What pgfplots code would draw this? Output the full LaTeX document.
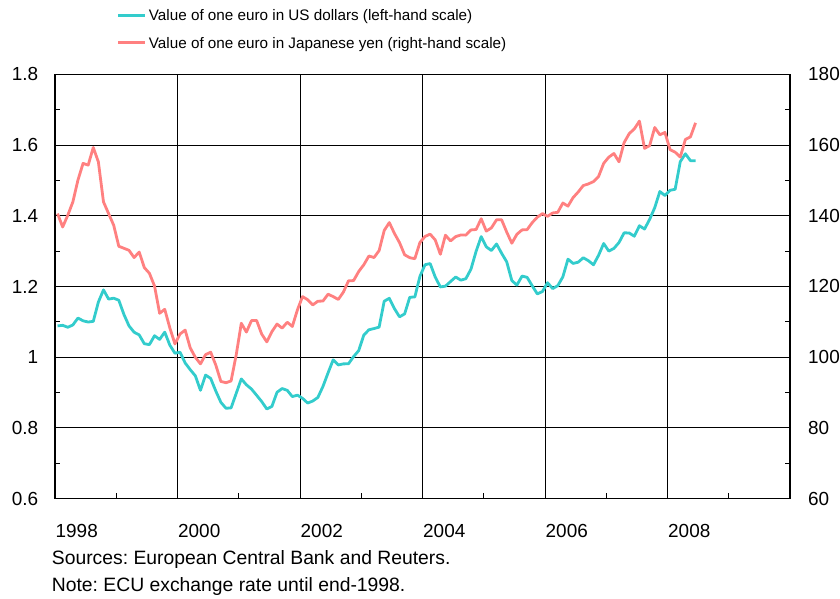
\documentclass[border=0pt]{standalone}
\usepackage{pgfplots}
\pgfplotsset{compat=1.18}
\usepackage{pgfplotstable}
\usepackage{fontspec}
\setmainfont{Liberation Sans}
\frenchspacing

\definecolor{usd}{RGB}{51,204,204}
\definecolor{jpy}{RGB}{255,128,128}

% monthly averages; before 1999 the ECU
\pgfplotstableread{
yr mo usd jpy
1998 1 1.0882 140.6
1998 2 1.0899 136.8
1998 3 1.0844 140.1
1998 4 1.0909 143.9
1998 5 1.1105 150.1
1998 6 1.1027 154.8
1998 7 1.0992 154.3
1998 8 1.1011 159.3
1998 9 1.1558 155.2
1998 10 1.1901 143.9
1998 11 1.1641 140.6
1998 12 1.1666 137.3
1999 1 1.1608 131.35
1999 2 1.1208 130.78
1999 3 1.0883 130.20
1999 4 1.0704 128.16
1999 5 1.0628 129.71
1999 6 1.0378 125.32
1999 7 1.0353 123.71
1999 8 1.0604 120.10
1999 9 1.0501 112.39
1999 10 1.0706 113.52
1999 11 1.0338 108.25
1999 12 1.0110 103.72
2000 1 1.0137 106.53
2000 2 0.9834 107.64
2000 3 0.9643 102.59
2000 4 0.9470 99.92
2000 5 0.9060 98.09
2000 6 0.9492 100.70
2000 7 0.9397 101.39
2000 8 0.9041 97.76
2000 9 0.8721 93.11
2000 10 0.8552 92.75
2000 11 0.8564 93.26
2000 12 0.8973 100.61
2001 1 0.9383 109.57
2001 2 0.9217 107.08
2001 3 0.9095 110.33
2001 4 0.8920 110.36
2001 5 0.8742 106.50
2001 6 0.8532 104.30
2001 7 0.8607 107.21
2001 8 0.9005 109.34
2001 9 0.9111 108.20
2001 10 0.9059 109.86
2001 11 0.8883 108.68
2001 12 0.8924 113.38
2002 1 0.8833 117.12
2002 2 0.8700 116.23
2002 3 0.8758 114.75
2002 4 0.8858 115.81
2002 5 0.9170 115.86
2002 6 0.9554 117.80
2002 7 0.9922 117.11
2002 8 0.9778 116.31
2002 9 0.9808 118.38
2002 10 0.9811 121.57
2002 11 1.0014 121.65
2002 12 1.0183 124.20
2003 1 1.0622 126.12
2003 2 1.0773 128.60
2003 3 1.0807 128.16
2003 4 1.0848 130.12
2003 5 1.1582 135.83
2003 6 1.1663 138.05
2003 7 1.1372 134.99
2003 8 1.1139 132.38
2003 9 1.1222 128.94
2003 10 1.1692 128.12
2003 11 1.1702 127.84
2003 12 1.2286 132.43
2004 1 1.2613 134.13
2004 2 1.2646 134.78
2004 3 1.2262 133.13
2004 4 1.1985 129.08
2004 5 1.2007 134.48
2004 6 1.2138 132.86
2004 7 1.2266 134.08
2004 8 1.2176 134.54
2004 9 1.2218 134.51
2004 10 1.2490 135.97
2004 11 1.2991 136.09
2004 12 1.3408 139.14
2005 1 1.3119 135.63
2005 2 1.3014 136.55
2005 3 1.3201 138.83
2005 4 1.2938 138.84
2005 5 1.2694 135.37
2005 6 1.2165 132.22
2005 7 1.2037 134.75
2005 8 1.2292 135.98
2005 9 1.2256 136.06
2005 10 1.2015 138.05
2005 11 1.1786 139.59
2005 12 1.1856 140.58
2006 1 1.2103 139.82
2006 2 1.1938 140.77
2006 3 1.2020 140.96
2006 4 1.2271 143.59
2006 5 1.2770 142.70
2006 6 1.2650 145.11
2006 7 1.2684 146.70
2006 8 1.2811 148.53
2006 9 1.2727 148.99
2006 10 1.2611 149.65
2006 11 1.2881 151.11
2006 12 1.3213 154.82
2007 1 1.2999 156.56
2007 2 1.3074 157.60
2007 3 1.3242 155.24
2007 4 1.3516 160.68
2007 5 1.3511 163.22
2007 6 1.3419 164.55
2007 7 1.3716 166.76
2007 8 1.3622 159.05
2007 9 1.3896 159.82
2007 10 1.4227 164.95
2007 11 1.4684 162.89
2007 12 1.4570 163.55
2008 1 1.4718 158.68
2008 2 1.4748 157.97
2008 3 1.5527 156.59
2008 4 1.5751 161.56
2008 5 1.5557 162.31
2008 6 1.5553 166.26
}\eurodata

\pgfplotsset{
  eurobase/.style={
    scale only axis, width=735bp, height=424.2bp,
    at={(0,0)}, anchor=south west,
    xmin=1998, xmax=2010,
    tick align=inside,
    major tick length=5bp, minor tick length=5bp,
    tick style={black, line width=0.9bp},
    axis line style={black, line width=1.2bp},
    ticklabel style={font=\fontsize{19}{22}\selectfont, inner sep=0pt},
    /pgf/number format/assume math mode=true,
  },
}

\begin{document}
\begin{tikzpicture}
\begin{axis}[eurobase,
  ymin=0.6, ymax=1.8,
  ytick={0.6,0.8,1,1.2,1.4,1.6,1.8},
  minor ytick={0.7,0.9,1.1,1.3,1.5,1.7},
  ytick pos=left,
  xtick={1998,2000,2002,2004,2006,2008},
  xticklabels={1998,2000,2002,2004,2006,2008},
  minor xtick={1999,2001,2003,2005,2007,2009},
  xtick pos=bottom,
  xmajorgrids, ymajorgrids,
  major grid style={black, line width=0.8bp},
  xticklabel style={anchor=base west, yshift=-38.8bp, xshift=0.5bp},
  yticklabel style={anchor=east, xshift=-16.7bp},
]
\addplot[usd, line width=2.8bp, line join=round]
  table[x expr=\thisrow{yr}+(\thisrow{mo}-0.5)/12, y=usd] {\eurodata};
\end{axis}

\begin{axis}[eurobase,
  ymin=60, ymax=180,
  axis y line*=right,
  hide x axis,
  ytick={60,80,100,120,140,160,180},
  minor ytick={70,90,110,130,150,170},
  yticklabel style={anchor=west, xshift=18bp},
  legend style={
    at={(axis description cs:0.0839,1.1523)}, anchor=north west,
    draw=none, fill=none, inner sep=0pt,
    row sep=16.9bp, column sep=2.7bp,
    font=\fontsize{15.3}{18}\selectfont,
    nodes={inner sep=0pt, text height=10.7bp, text depth=0pt},
    cells={anchor=west},
  },
  legend image code/.code={\draw[#1] (0bp,0bp) -- (26.6bp,0bp);},
]
\addlegendimage{usd, line width=2.8bp}
\addlegendentry{Value of one euro in US dollars (left-hand scale)}
\addplot[jpy, line width=2.8bp, line join=round]
  table[x expr=\thisrow{yr}+(\thisrow{mo}-0.5)/12, y=jpy] {\eurodata};
\addlegendentry{Value of one euro in Japanese yen (right-hand scale)}
\end{axis}

\node[anchor=base west, inner sep=0pt, font=\fontsize{19.4}{22}\selectfont]
  at (-3.3bp,-65.8bp) {Sources: European Central Bank and Reuters.};
\node[anchor=base west, inner sep=0pt, font=\fontsize{19.4}{22}\selectfont]
  at (-3.3bp,-93.2bp) {Note: ECU exchange rate until end-1998.};
\path (-55bp,-100.5bp) rectangle (785bp,498.5bp);
\end{tikzpicture}
\end{document}
